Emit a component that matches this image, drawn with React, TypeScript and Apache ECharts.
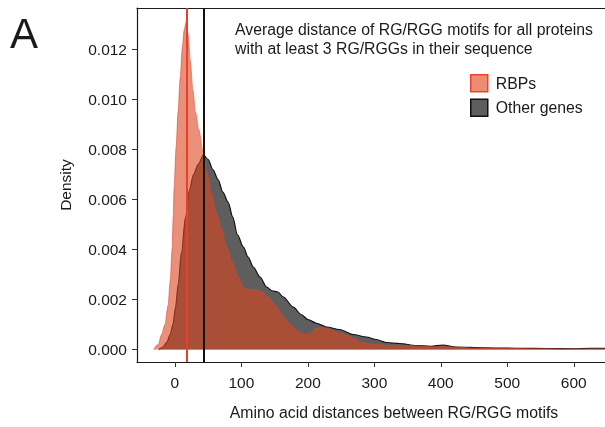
import React, { useEffect, useRef } from "react";
import * as echarts from "echarts";

const seriesNames = ["RBPs", "Other genes"];

const rbpX = [-32, -25, -20, -15, -10, -7, -4, -2.5, -1, 2, 5, 8, 11.5, 14, 17, 20, 23, 27, 31, 36, 42, 48, 55, 62, 70, 78, 86, 95, 102, 110, 120, 130, 140, 150, 163, 175, 185, 195, 203, 213, 223, 233, 243, 258, 268, 278, 290, 300, 320, 340, 360, 390, 420, 450, 500, 550, 600, 650];
const rbpDensity = [0, 0.0002, 0.0006, 0.001, 0.0018, 0.0028, 0.0041, 0.0054, 0.0066, 0.0082, 0.0096, 0.0109, 0.0122, 0.0128, 0.0131, 0.0126, 0.0116, 0.0104, 0.0095, 0.0088, 0.008, 0.0071, 0.0062, 0.0055, 0.0048, 0.0041, 0.0035, 0.0029, 0.0025, 0.00238, 0.0024, 0.00232, 0.0021, 0.0018, 0.0013, 0.00095, 0.00072, 0.0006, 0.00062, 0.00085, 0.0009, 0.0008, 0.00068, 0.00058, 0.00045, 0.0003, 0.00023, 0.00021, 0.00016, 0.00015, 0.00015, 0.00011, 0.0001, 0.00006, 0.00004, 0.00003, 0.00002, 0.00002];

const otherX = [-24, -18, -12, -7, -3, 1, 5, 10, 16, 22, 28, 35, 43, 50, 57, 65, 72, 80, 87, 94, 103, 110, 118, 128, 138, 146, 155, 163, 178, 190, 200, 213, 228, 248, 268, 288, 303, 318, 338, 363, 385, 403, 423, 463, 513, 563, 600, 625, 650];
const otherDensity = [0, 0.0001, 0.0003, 0.0006, 0.001, 0.0017, 0.0026, 0.0039, 0.0053, 0.0064, 0.007, 0.0074, 0.00778, 0.0076, 0.0072, 0.0068, 0.0063, 0.0059, 0.0053, 0.0046, 0.0041, 0.0037, 0.0033, 0.0029, 0.0025, 0.00235, 0.0023, 0.0021, 0.0017, 0.0014, 0.0012, 0.00105, 0.0009, 0.0008, 0.0006, 0.0005, 0.0004, 0.00028, 0.00024, 0.00016, 0.00013, 0.00018, 0.0001, 0.00007, 0.00005, 0.00004, 0.00003, 0.00005, 0.00005];

const rbpMean = 17.5;
const otherMean = 43.5;

const xTicks = [0, 100, 200, 300, 400, 500, 600];
const yTicks = [0, 0.002, 0.004, 0.006, 0.008, 0.01, 0.012];

const xTitle = "Amino acid distances between RG/RGG motifs";
const yTitle = "Density";
const noteLines = [
  "Average distance of RG/RGG motifs for all proteins",
  "with at least 3 RG/RGGs in their sequence",
];
const panelLetter = "A";

export default function App() {
  const ref = useRef<HTMLDivElement>(null);
  useEffect(() => {
    const chart = echarts.init(ref.current!, null, { renderer: "svg" });
    const font = "'Liberation Sans', Arial, Helvetica, sans-serif";
    const txt = "#1a1a1a";
    const fs = 15.8;
    const axisLine = { show: true, onZero: false, lineStyle: { color: "#1a1a1a", width: 1.2 } };
    const pairs = (xs: number[], ys: number[]) => xs.map((x, i) => [x, ys[i]]);
    chart.setOption({
      animation: false,
      grid: { left: 137, top: 8, right: 0, bottom: 65, containLabel: false },
      xAxis: [
        {
          type: "value",
          min: -57,
          max: 647,
          axisLine,
          axisTick: { show: true, length: 5, customValues: xTicks, lineStyle: { color: "#333" } },
          axisLabel: { customValues: xTicks, margin: 12, fontSize: 15.5, color: txt, fontFamily: font },
          splitLine: { show: false },
          name: xTitle,
          nameLocation: "middle",
          nameGap: 42,
          nameTextStyle: { fontSize: fs, color: txt, fontFamily: font, padding: [0, 0, 0, 46] },
        },
        {
          type: "value",
          position: "top",
          min: -57,
          max: 647,
          axisLine,
          axisTick: { show: false },
          axisLabel: { show: false },
          splitLine: { show: false },
        },
      ],
      yAxis: {
        type: "value",
        min: -0.0005,
        max: 0.01366,
        axisLine,
        axisTick: { show: true, length: 5, customValues: yTicks, lineStyle: { color: "#333" } },
        axisLabel: {
          customValues: yTicks,
          margin: 10,
          fontSize: 15.5,
          color: txt,
          fontFamily: font,
          formatter: (v: number) => v.toFixed(3),
        },
        splitLine: { show: false },
        name: yTitle,
        nameLocation: "middle",
        nameGap: 64,
        nameTextStyle: { fontSize: 15.5, color: txt, fontFamily: font },
      },
      legend: {
        orient: "vertical",
        left: 465,
        top: 69,
        itemWidth: 17,
        itemHeight: 17,
        itemGap: 6,
        icon: "rect",
        textStyle: { fontSize: fs, color: txt, fontFamily: font, padding: [0, 0, 0, 3] },
        data: [
          { name: seriesNames[0], itemStyle: { color: "#ec8c72", borderColor: "#e8452c", borderWidth: 1.5 } },
          { name: seriesNames[1], itemStyle: { color: "#5e5e5e", borderColor: "#111", borderWidth: 1.5 } },
        ],
      },
      series: [
        {
          name: seriesNames[1],
          type: "line",
          data: pairs(otherX, otherDensity),
          smooth: 0.3,
          smoothMonotone: "x",
          showSymbol: false,
          symbol: "none",
          lineStyle: { color: "#111", width: 1.2 },
          itemStyle: { color: "#5e5e5e" },
          areaStyle: { color: "#5e5e5e", opacity: 1 },
          emphasis: { disabled: true },
          z: 2,
          markLine: {
            silent: true,
            symbol: ["none", "none"],
            label: { show: false },
            lineStyle: { color: "#111", width: 2, type: "solid" },
            data: [{ xAxis: otherMean }],
            z: 6,
          },
        },
        {
          name: seriesNames[0],
          type: "line",
          data: pairs(rbpX, rbpDensity),
          smooth: 0.3,
          smoothMonotone: "x",
          showSymbol: false,
          symbol: "none",
          lineStyle: { color: "rgba(232,69,44,0.55)", width: 1.1 },
          itemStyle: { color: "#ec8c72" },
          areaStyle: { color: "rgb(220,69,30)", opacity: 0.6 },
          emphasis: { disabled: true },
          z: 3,
          markLine: {
            silent: true,
            symbol: ["none", "none"],
            label: { show: false },
            lineStyle: { color: "#e8402a", width: 2, type: "solid" },
            data: [{ xAxis: rbpMean }],
            z: 5,
          },
        },
      ],
      graphic: [
        {
          type: "text",
          left: 10,
          top: 12,
          style: { text: panelLetter, fontSize: 42, fill: txt, fontFamily: font },
        },
        {
          type: "text",
          x: 235,
          y: 29.6,
          style: { text: noteLines[0], fontSize: fs, fill: txt, fontFamily: font, verticalAlign: "middle" },
        },
        {
          type: "text",
          x: 235,
          y: 48,
          style: { text: noteLines[1], fontSize: fs, fill: txt, fontFamily: font, verticalAlign: "middle" },
        },
      ],
    });
    return () => chart.dispose();
  }, []);
  return <div ref={ref} style={{ position: "fixed", left: 0, top: 0, width: 605, height: 427 }} />;
}
